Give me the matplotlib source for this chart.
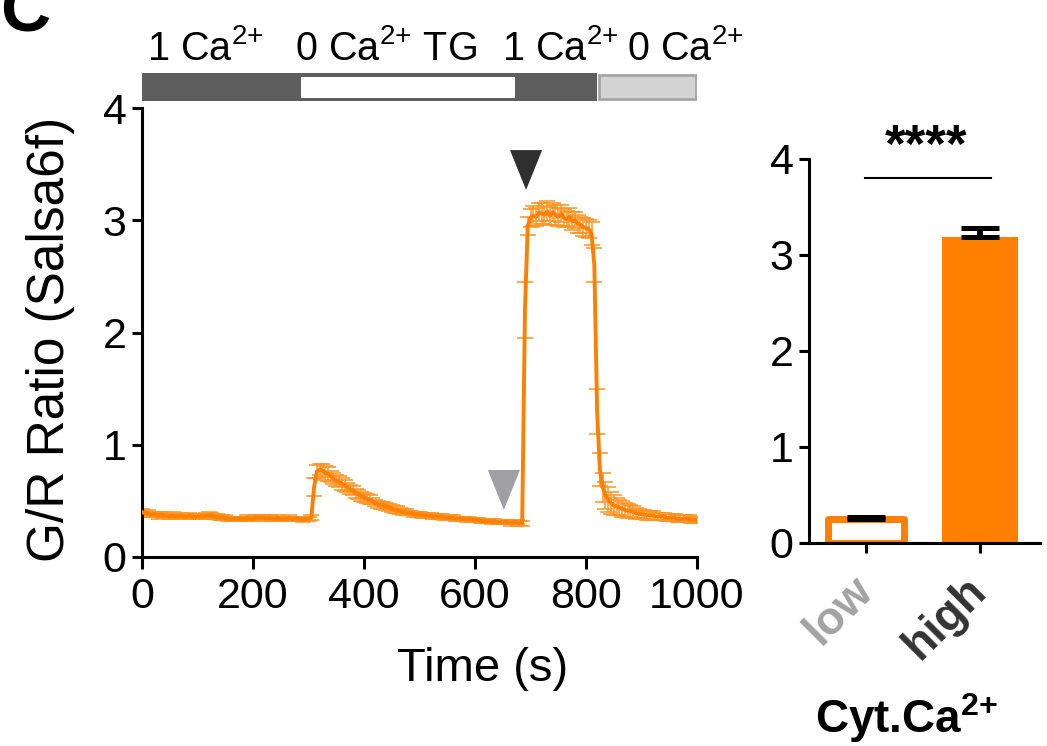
import numpy as np
import matplotlib.pyplot as plt
import matplotlib.transforms as mtransforms

plt.rcParams['font.family'] = ['Liberation Sans', 'DejaVu Sans']
plt.rcParams['mathtext.fontset'] = 'custom'
plt.rcParams['mathtext.rm'] = 'Liberation Sans'
plt.rcParams['mathtext.bf'] = 'Liberation Sans:bold'
plt.rcParams['mathtext.it'] = 'Liberation Sans:italic'

ORANGE = '#FF8000'

# Trace: G/R ratio, one point every 5 s (0..1000 s)
time_s = np.arange(0, 1001, 5)
ratio_mean = [
    0.40, 0.39, 0.39, 0.38, 0.38, 0.38, 0.37, 0.38, 0.37, 0.37, 0.36, 0.37, 0.36, 0.36, 0.37, 0.36, 0.36, 0.37, 0.36, 0.36,
    0.36, 0.36, 0.36, 0.37, 0.37, 0.37, 0.36, 0.36, 0.35, 0.35, 0.35, 0.34, 0.34, 0.34, 0.34, 0.34, 0.34, 0.34, 0.35, 0.34,
    0.34, 0.35, 0.35, 0.35, 0.35, 0.34, 0.35, 0.34, 0.34, 0.35, 0.34, 0.34, 0.34, 0.35, 0.34, 0.34, 0.34, 0.34, 0.33, 0.34,
    0.34, 0.35, 0.62, 0.76, 0.78, 0.77, 0.75, 0.74, 0.72, 0.70, 0.68, 0.67, 0.65, 0.64, 0.62, 0.60, 0.59, 0.57, 0.56, 0.54,
    0.53, 0.52, 0.51, 0.50, 0.48, 0.47, 0.46, 0.46, 0.45, 0.44, 0.43, 0.42, 0.42, 0.41, 0.40, 0.40, 0.39, 0.39, 0.38, 0.38,
    0.38, 0.37, 0.37, 0.37, 0.37, 0.36, 0.36, 0.36, 0.36, 0.35, 0.35, 0.35, 0.35, 0.34, 0.34, 0.34, 0.34, 0.33, 0.34, 0.33,
    0.33, 0.33, 0.32, 0.32, 0.32, 0.32, 0.31, 0.32, 0.31, 0.31, 0.31, 0.31, 0.31, 0.30, 0.31, 0.31, 0.30, 0.30, 2.20, 2.95,
    3.02, 3.04, 3.03, 3.07, 3.06, 3.05, 3.08, 3.04, 3.07, 3.05, 3.03, 3.06, 3.02, 3.01, 3.03, 2.99, 3.00, 2.97, 2.96, 2.94,
    2.93, 2.92, 2.88, 2.60, 1.30, 0.78, 0.62, 0.55, 0.51, 0.48, 0.46, 0.45, 0.44, 0.43, 0.42, 0.41, 0.41, 0.40, 0.39, 0.39,
    0.38, 0.38, 0.37, 0.37, 0.37, 0.36, 0.36, 0.36, 0.36, 0.35, 0.35, 0.35, 0.35, 0.34, 0.34, 0.34, 0.34, 0.34, 0.33, 0.33,
    0.33,
]
ratio_sem = [
    0.03, 0.02, 0.03, 0.02, 0.02, 0.02, 0.03, 0.02, 0.02, 0.02, 0.02, 0.03, 0.02, 0.02, 0.02, 0.02, 0.02, 0.02, 0.02, 0.02,
    0.02, 0.02, 0.02, 0.02, 0.03, 0.02, 0.02, 0.02, 0.02, 0.02, 0.02, 0.02, 0.02, 0.02, 0.02, 0.02, 0.02, 0.02, 0.02, 0.02,
    0.02, 0.02, 0.02, 0.02, 0.02, 0.02, 0.02, 0.02, 0.02, 0.02, 0.02, 0.02, 0.02, 0.02, 0.02, 0.02, 0.02, 0.02, 0.02, 0.02,
    0.02, 0.02, 0.08, 0.06, 0.05, 0.06, 0.06, 0.06, 0.05, 0.05, 0.05, 0.05, 0.05, 0.05, 0.04, 0.04, 0.04, 0.04, 0.04, 0.04,
    0.04, 0.04, 0.04, 0.03, 0.03, 0.03, 0.03, 0.03, 0.03, 0.03, 0.03, 0.03, 0.03, 0.03, 0.03, 0.03, 0.02, 0.02, 0.02, 0.02,
    0.02, 0.02, 0.02, 0.02, 0.02, 0.02, 0.02, 0.02, 0.02, 0.02, 0.02, 0.02, 0.02, 0.02, 0.02, 0.02, 0.02, 0.02, 0.02, 0.02,
    0.02, 0.02, 0.02, 0.02, 0.02, 0.02, 0.02, 0.02, 0.02, 0.02, 0.02, 0.02, 0.02, 0.02, 0.02, 0.02, 0.02, 0.02, 0.25, 0.08,
    0.08, 0.09, 0.08, 0.08, 0.09, 0.08, 0.09, 0.08, 0.08, 0.09, 0.08, 0.08, 0.08, 0.07, 0.08, 0.08, 0.07, 0.08, 0.07, 0.08,
    0.08, 0.08, 0.10, 0.15, 0.20, 0.15, 0.13, 0.12, 0.11, 0.10, 0.09, 0.08, 0.07, 0.07, 0.06, 0.06, 0.05, 0.05, 0.05, 0.04,
    0.04, 0.04, 0.04, 0.04, 0.04, 0.03, 0.03, 0.03, 0.03, 0.03, 0.03, 0.03, 0.03, 0.03, 0.03, 0.03, 0.03, 0.03, 0.03, 0.03,
    0.03,
]

# Solution bar on top
phase_edges = [0, 283, 676, 819, 1000]
phase_labels = [r'1 Ca$^{2{+}}$', r'0 Ca$^{2{+}}$ TG', r'1 Ca$^{2{+}}$', r'0 Ca$^{2{+}}$']
phase_label_t = [114, 440, 753, 978]

# Arrowheads (time, tip value)
arrow_t = [652, 692]
arrow_tip = [0.42, 3.27]
arrow_colors = ['#a0a0a4', '#303030']

# Summary bars
groups = ['low', 'high']
group_mean = [0.25, 3.19]
group_sem = [0.02, 0.09]
group_label_colors = ['#a3a3a3', '#333333']

W, H = 1047, 746
fig = plt.figure(figsize=(W / 100, H / 100), dpi=100)

# ---- trace panel ----
ax = fig.add_axes([142 / W, 1 - 557 / H, 555 / W, 449 / H])
ax.errorbar(time_s, ratio_mean, yerr=ratio_sem, fmt='none', ecolor='#FF9526',
            elinewidth=1.4, capsize=6, capthick=1.4, alpha=0.8, zorder=2)
ax.plot(time_s, ratio_mean, color=ORANGE, lw=2.8, zorder=3)

for t, tip, c in zip(arrow_t, arrow_tip, arrow_colors):
    ax.fill([t - 29, t + 29, t], [tip + 0.355, tip + 0.355, tip], color=c, lw=0, zorder=4)

ax.set_xlim(0, 1000)
ax.set_ylim(0, 4)
ax.set_xticks([0, 200, 400, 600, 800, 1000])
ax.set_yticks([0, 1, 2, 3, 4])
for s in ['top', 'right']:
    ax.spines[s].set_visible(False)
for s in ['left', 'bottom']:
    ax.spines[s].set_linewidth(2.2)
ax.tick_params(axis='x', length=8.6, width=2.2, pad=6, labelsize=31)
ax.tick_params(axis='y', length=7.2, width=2.2, pad=4, labelsize=31)
ax.set_ylabel('G/R Ratio (Salsa6f)', fontsize=37)
ax.yaxis.set_label_coords(-0.12, 0.485)
ax.set_xlabel('Time (s)', fontsize=34)
ax.xaxis.set_label_coords(0.613, -0.2)

# ---- solution bar ----
axb = fig.add_axes([142 / W, 1 - 101 / H, 555 / W, 28 / H])
axb.set_xlim(0, 1000)
axb.set_ylim(0, 1)
axb.axis('off')
axb.add_patch(plt.Rectangle((phase_edges[0], 0), phase_edges[3] - phase_edges[0], 1,
                            fc='#5e5e5e', ec='none'))
axb.add_patch(plt.Rectangle((phase_edges[1] + 4, 0.12), phase_edges[2] - phase_edges[1] - 8, 0.72,
                            fc='white', ec='none'))
axb.add_patch(plt.Rectangle((phase_edges[3] + 4, 0.06), phase_edges[4] - phase_edges[3] - 6, 0.88,
                            fc='#d3d3d3', ec='#a6a6a6', lw=2))
trans = mtransforms.blended_transform_factory(axb.transData, fig.transFigure)
for t, lab in zip(phase_label_t, phase_labels):
    fig.text(t, 1 - 60 / H, lab, transform=trans, ha='center', va='baseline', fontsize=28.5)

# ---- summary bars ----
ax2 = fig.add_axes([809 / W, 1 - 543 / H, 231 / W, 384 / H])
x = np.arange(len(groups))
ax2.bar(x[0], group_mean[0], width=0.667, color='white', edgecolor=ORANGE,
        linewidth=5, joinstyle='round', zorder=2)
ax2.bar(x[1], group_mean[1], width=0.667, color=ORANGE, zorder=2)
ax2.errorbar(x, group_mean, yerr=[[0, 0], group_sem], fmt='none', ecolor='black',
             elinewidth=4.3, capsize=13.7, capthick=3.6, zorder=3)
ax2.plot([-0.01, 1.1], [3.8, 3.8], color='black', lw=1.5, clip_on=False)
ax2.text(0.53, 3.97, '****', ha='center', va='baseline', fontsize=38,
         fontweight='bold', clip_on=False)
ax2.set_xlim(-0.5, 1.53)
ax2.set_ylim(0, 4)
ax2.set_yticks([0, 1, 2, 3, 4])
ax2.set_xticks(x)
ax2.set_xticklabels(groups, rotation=45, ha='right', va='center',
                    rotation_mode='anchor', fontsize=33, fontweight='bold')
for lab, c in zip(ax2.get_xticklabels(), group_label_colors):
    lab.set_color(c)
for s in ['top', 'right']:
    ax2.spines[s].set_visible(False)
for s in ['left', 'bottom']:
    ax2.spines[s].set_linewidth(2.2)
ax2.tick_params(axis='x', length=7.2, width=2.2, pad=22)
ax2.tick_params(axis='y', length=7.2, width=2.2, pad=4, labelsize=31)
fig.text(907 / W, 1 - 733 / H, r'Cyt.Ca$^{\mathbf{2{+}}}$', ha='center', va='baseline',
         fontsize=33, fontweight='bold')

# panel letter
fig.text(0.0, 1 - 31 / H, 'C', ha='left', va='baseline', fontsize=50, fontweight='bold')

fig.savefig('out.png', dpi=100)
